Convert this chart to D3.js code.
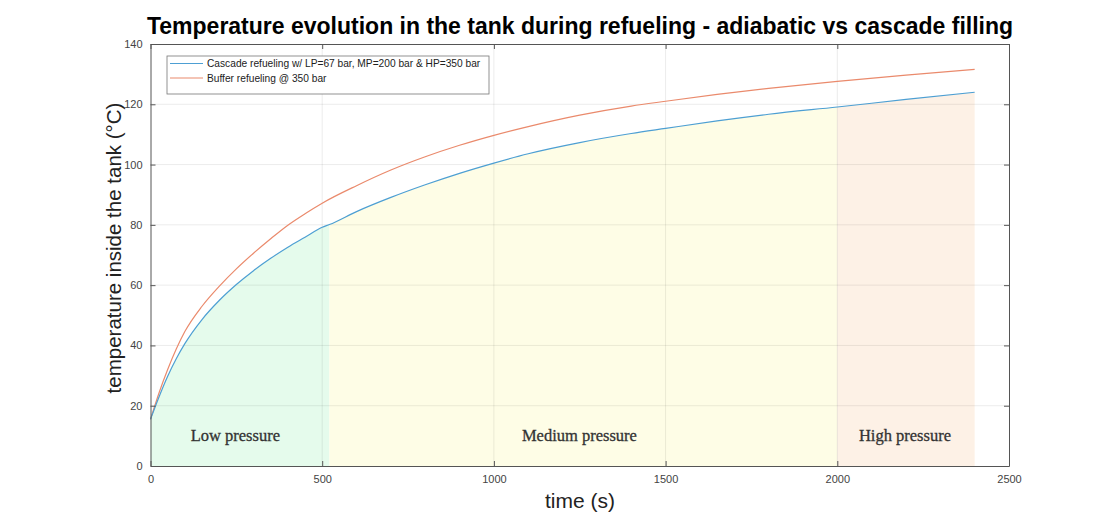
<!DOCTYPE html>
<html>
<head>
<meta charset="utf-8">
<title>Temperature evolution in the tank</title>
<script src="https://d3js.org/d3.v7.min.js"></script>
<style>
  body { margin: 0; background: #fff; }
  text { font-family: "Liberation Sans", Arial, sans-serif; }
</style>
</head>
<body>
<svg id="chart" width="1102" height="517"></svg>
<script>
// data (time in s, temperature in °C)
var time_cascade = [0, 25, 50, 75, 100, 150, 200, 250, 300, 350, 400, 450, 500, 521, 600, 700, 800, 900, 1000, 1100, 1250, 1400, 1500, 1650, 1800, 2000, 2200, 2400];
var temp_cascade = [15.5, 23, 29.8, 35.6, 40.6, 48.6, 54.9, 60.2, 64.8, 68.9, 72.6, 75.9, 79.2, 80.1, 84.4, 89.1, 93.3, 97.1, 100.5, 103.6, 107.3, 110.3, 112, 114.5, 116.7, 119.1, 121.6, 124];

var time_buffer = [0, 25, 50, 75, 100, 150, 200, 250, 300, 350, 400, 450, 500, 600, 700, 800, 900, 1000, 1100, 1250, 1400, 1500, 1650, 1800, 2000, 2200, 2400];
var temp_buffer = [15.5, 24.3, 32, 38.8, 44.6, 53, 59.6, 65.4, 70.6, 75.4, 79.9, 83.7, 87.2, 93, 98.2, 102.6, 106.4, 109.7, 112.6, 116.4, 119.4, 121, 123.3, 125.3, 127.6, 129.7, 131.6];

// filling phases (s)
var phase_names = ["Low pressure", "Medium pressure", "High pressure"];
var phase_start = [0, 521, 2000];
var phase_end = [521, 2000, 2400];
var phase_colors = ["#e5fbec", "#fefde6", "#fdf1e6"];
var label_t = [247, 1249, 2197];

var series_names = ["Cascade refueling w/ LP=67 bar, MP=200 bar & HP=350 bar", "Buffer refueling @ 350 bar"];
var series_colors = ["#4d9fd3", "#ea8a6c"];

var x_ticks = [0, 500, 1000, 1500, 2000, 2500];
var y_ticks = [0, 20, 40, 60, 80, 100, 120, 140];

var plotL = 150.5, plotR = 1009, plotT = 44, plotB = 466;

var svg = d3.select("#chart");

var x = d3.scaleLinear().domain([0, 2500]).range([plotL, plotR]);
var y = d3.scaleLinear().domain([0, 140]).range([plotB, plotT]);

var cascade = time_cascade.map(function(t, i) { return {t: t, v: temp_cascade[i]}; });
var buffer = time_buffer.map(function(t, i) { return {t: t, v: temp_buffer[i]}; });

// shaded areas under the cascade curve
var area = d3.area()
    .x(function(d) { return x(d.t); })
    .y0(y(0))
    .y1(function(d) { return y(d.v); })
    .curve(d3.curveMonotoneX);

phase_names.forEach(function(p, i) {
  var part = cascade.filter(function(d) { return d.t >= phase_start[i] && d.t <= phase_end[i]; });
  svg.append("path")
    .attr("d", area(part))
    .attr("fill", phase_colors[i]);
});

// grid
svg.append("g").selectAll("line").data(x_ticks.slice(1, -1)).enter().append("line")
  .attr("x1", function(d) { return x(d); }).attr("x2", function(d) { return x(d); })
  .attr("y1", plotT).attr("y2", plotB)
  .attr("stroke", "#000").attr("stroke-opacity", 0.08);
svg.append("g").selectAll("line").data(y_ticks.slice(1, -1)).enter().append("line")
  .attr("y1", function(d) { return y(d); }).attr("y2", function(d) { return y(d); })
  .attr("x1", plotL).attr("x2", plotR)
  .attr("stroke", "#000").attr("stroke-opacity", 0.08);

// curves
var line = d3.line()
    .x(function(d) { return x(d.t); })
    .y(function(d) { return y(d.v); })
    .curve(d3.curveMonotoneX);

svg.append("path").attr("d", line(buffer))
  .attr("fill", "none").attr("stroke", series_colors[1]).attr("stroke-width", 1.2);
svg.append("path").attr("d", line(cascade))
  .attr("fill", "none").attr("stroke", series_colors[0]).attr("stroke-width", 1.2);

// phase labels
phase_names.forEach(function(p, i) {
  svg.append("text")
    .attr("x", x(label_t[i])).attr("y", 441)
    .attr("text-anchor", "middle")
    .style("font-family", "'Liberation Serif', 'DejaVu Serif', serif")
    .style("font-size", "16.5px")
    .attr("fill", "#333")
    .attr("stroke", "#333").attr("stroke-width", 0.3)
    .text(p);
});

// axes box (matlab style, ticks inside)
var axisColor = "#555";
function styleAxis(g) {
  g.select(".domain").attr("stroke", axisColor);
  g.selectAll(".tick line").attr("stroke", axisColor);
  g.selectAll(".tick text").attr("fill", "#444").style("font-size", "11px")
    .style("font-family", "'Liberation Sans', Arial, sans-serif");
}
svg.append("g")
  .attr("transform", "translate(0," + plotB + ")")
  .call(d3.axisBottom(x).tickValues(x_ticks).tickFormat(d3.format("d")).tickSizeInner(-5).tickSizeOuter(0).tickPadding(9))
  .call(styleAxis);
svg.append("g")
  .attr("transform", "translate(" + plotL + ",0)")
  .call(d3.axisLeft(y).tickValues(y_ticks).tickFormat(d3.format("d")).tickSizeInner(-5).tickSizeOuter(0).tickPadding(8))
  .call(styleAxis);
svg.append("g")
  .attr("transform", "translate(0," + plotT + ")")
  .call(d3.axisTop(x).tickValues(x_ticks).tickSizeInner(-5).tickSizeOuter(0).tickFormat(""))
  .call(styleAxis);
svg.append("g")
  .attr("transform", "translate(" + plotR + ",0)")
  .call(d3.axisRight(y).tickValues(y_ticks).tickSizeInner(-5).tickSizeOuter(0).tickFormat(""))
  .call(styleAxis);

// title and labels
svg.append("text")
  .attr("x", 580).attr("y", 34)
  .attr("text-anchor", "middle")
  .style("font-size", "23px").style("font-weight", "bold")
  .attr("fill", "#000")
  .text("Temperature evolution in the tank during refueling - adiabatic vs cascade filling");

svg.append("text")
  .attr("x", 580).attr("y", 508)
  .attr("text-anchor", "middle")
  .style("font-size", "21px")
  .attr("fill", "#222")
  .text("time (s)");

svg.append("text")
  .attr("transform", "translate(121,248) rotate(-90)")
  .attr("text-anchor", "middle")
  .style("font-size", "20.5px")
  .attr("fill", "#222")
  .text("temperature inside the tank (°C)");

// legend
var legend = svg.append("g");
legend.append("rect")
  .attr("x", 167).attr("y", 56).attr("width", 322).attr("height", 38)
  .attr("fill", "#fff").attr("stroke", "#777").attr("stroke-width", 0.8);
series_names.forEach(function(s, i) {
  var ly = 63.5 + i * 14.5;
  legend.append("line")
    .attr("x1", 170).attr("x2", 203).attr("y1", ly).attr("y2", ly)
    .attr("stroke", series_colors[i]).attr("stroke-width", 1.2);
  legend.append("text")
    .attr("x", 207).attr("y", ly + 3.5)
    .style("font-size", "10.2px")
    .attr("fill", "#222")
    .text(s);
});
</script>
</body>
</html>
